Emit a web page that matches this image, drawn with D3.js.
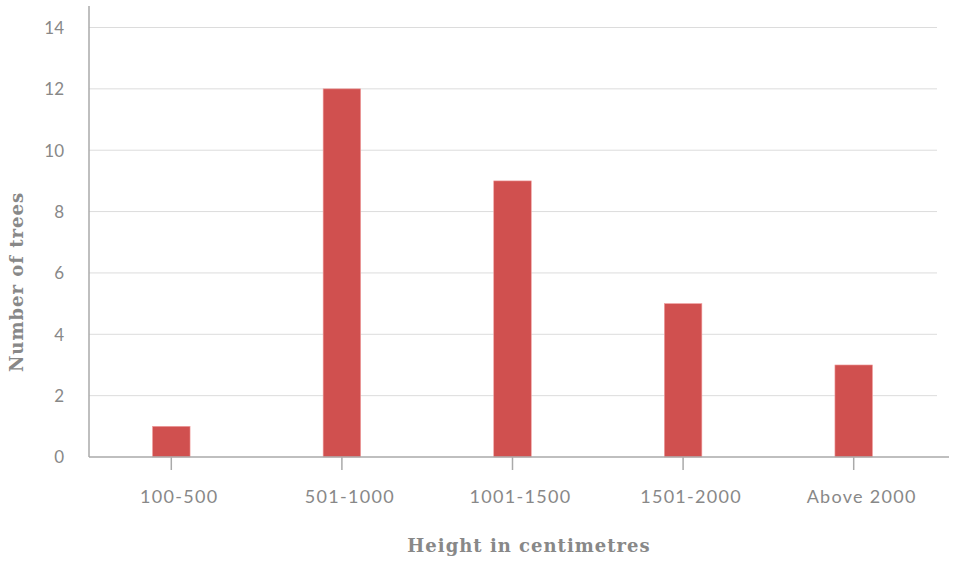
<!DOCTYPE html>
<html>
<head>
<meta charset="utf-8">
<script src="https://cdn.jsdelivr.net/npm/d3@7"></script>
<style>
  html, body { margin: 0; padding: 0; background: #fff; }
  svg { display: block; }
  .tick text { font-family: Lato, sans-serif; fill: #888; }
</style>
</head>
<body>
<svg id="chart" width="954" height="561"></svg>
<script>
// Tree counts by height band
const categories = ["100-500", "501-1000", "1001-1500", "1501-2000", "Above 2000"];
const treeCounts = [1, 12, 9, 5, 3];
const yTicks = [0, 2, 4, 6, 8, 10, 12, 14];

const svg = d3.select("#chart");
const plotLeft = 89, plotRight = 937, plotTop = 27.5, plotBottom = 457;

const x = d3.scaleBand()
  .domain(categories)
  .range([86, 939])
  .paddingInner(0.78)
  .paddingOuter(0.39);

const y = d3.scaleLinear()
  .domain([0, 14])
  .range([plotBottom, plotTop]);

// Horizontal gridlines
svg.append("g")
  .selectAll("line")
  .data(yTicks.filter(d => d > 0))
  .join("line")
  .attr("x1", plotLeft)
  .attr("x2", plotRight)
  .attr("y1", d => y(d))
  .attr("y2", d => y(d))
  .attr("stroke", "#dcdcdc")
  .attr("stroke-width", 1);

// Bars
svg.append("g")
  .selectAll("rect")
  .data(categories.map((c, i) => ({ c, v: treeCounts[i] })))
  .join("rect")
  .attr("x", d => x(d.c))
  .attr("y", d => y(d.v))
  .attr("width", x.bandwidth())
  .attr("height", d => plotBottom - y(d.v))
  .attr("fill", "#d0504f")
  .attr("stroke", "#f0a0a0")
  .attr("stroke-width", 0.6);

// Y axis
const yAxis = svg.append("g")
  .attr("transform", `translate(${plotLeft},0)`)
  .call(d3.axisLeft(y).tickValues(yTicks).tickSize(0).tickPadding(25));
yAxis.select(".domain").remove();
yAxis.selectAll(".tick text").attr("font-size", 17).attr("dy", "0.35em");
svg.append("line")
  .attr("x1", plotLeft).attr("x2", plotLeft)
  .attr("y1", 6).attr("y2", plotBottom)
  .attr("stroke", "#aaa").attr("stroke-width", 1.5);

// X axis
const xAxis = svg.append("g")
  .attr("transform", `translate(0,${plotBottom})`)
  .call(d3.axisBottom(x).tickSize(13));
xAxis.select(".domain").remove();
xAxis.selectAll(".tick line").attr("stroke", "#aaa").attr("stroke-width", 1.5);
xAxis.selectAll(".tick text")
  .attr("y", 46)
  .attr("dy", null)
  .attr("dx", 8)
  .attr("font-size", 18)
  .attr("letter-spacing", "1.3px");
svg.append("line")
  .attr("x1", plotLeft).attr("x2", 949)
  .attr("y1", plotBottom).attr("y2", plotBottom)
  .attr("stroke", "#aaa").attr("stroke-width", 1.5);

// Axis titles
svg.append("text")
  .attr("x", 529)
  .attr("y", 552)
  .attr("text-anchor", "middle")
  .attr("font-family", "'DejaVu Serif', serif")
  .attr("font-weight", "bold")
  .attr("font-size", 18)
  .attr("letter-spacing", "1px")
  .attr("fill", "#888")
  .text("Height in centimetres");

svg.append("text")
  .attr("transform", "translate(23,282) rotate(-90)")
  .attr("text-anchor", "middle")
  .attr("font-family", "'DejaVu Serif', serif")
  .attr("font-weight", "bold")
  .attr("font-size", 18)
  .attr("letter-spacing", "1px")
  .attr("fill", "#888")
  .text("Number of trees");
</script>
</body>
</html>
